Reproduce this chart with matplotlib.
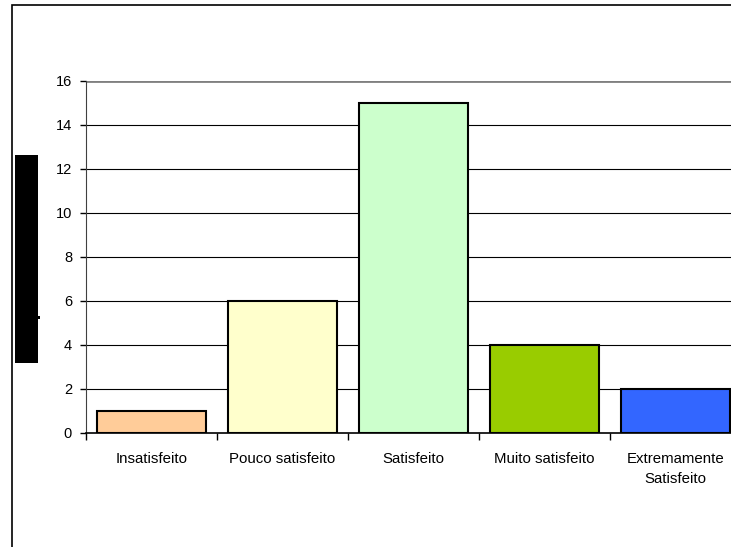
import matplotlib.pyplot as plt
from matplotlib.patches import Rectangle

categorias = ['Insatisfeito', 'Pouco satisfeito', 'Satisfeito', 'Muito satisfeito', 'Extremamente\nSatisfeito']
valores = [1, 6, 15, 4, 2]
cores = ['#FFCC99', '#FFFFCC', '#CCFFCC', '#99CC00', '#3366FF']
yticks = [0, 2, 4, 6, 8, 10, 12, 14, 16]

W, H = 731, 547
plt.rcParams['font.family'] = ['Liberation Sans', 'DejaVu Sans']
fig = plt.figure(figsize=(W / 100, H / 100), dpi=100)

# area do grafico (passa da borda direita, como no original)
x0, x1, y0, y1 = 86, 741, 433, 81
ax = fig.add_axes([x0 / W, 1 - y0 / H, (x1 - x0) / W, (y0 - y1) / H])

pos = list(range(len(categorias)))
ax.bar(pos, valores, width=0.835, color=cores, edgecolor='black', linewidth=1.5, zorder=3)

ax.set_xlim(-0.5, len(categorias) - 0.5)
ax.set_ylim(0, 16)
ax.set_yticks(yticks)
ax.set_yticklabels([str(v) for v in yticks])
for v in yticks[1:-1]:
    ax.axhline(v, color='black', linewidth=0.8, zorder=1)
ax.axhline(16, color='#808080', linewidth=2, zorder=1)

ax.set_xticks([p + 0.5 for p in pos[:-1]] + [-0.5])
ax.set_xticklabels([])
ax.set_xticks(pos, minor=True)
ax.set_xticklabels(categorias, minor=True, fontsize=10.8, linespacing=1.55)
ax.tick_params(axis='x', which='minor', length=0, pad=14)
ax.tick_params(axis='x', which='major', length=5, width=1, direction='out')
ax.tick_params(axis='y', length=4, width=1, labelsize=10.5, pad=6)

for s in ['top', 'right']:
    ax.spines[s].set_visible(False)
ax.spines['left'].set_color('#404040')
ax.spines['bottom'].set_linewidth(1.2)

# borda da figura e bloco preto a esquerda
fig.patches.append(Rectangle((11.5 / W, -0.1), 2, 1 - 4.5 / H + 0.1, transform=fig.transFigure,
                             fill=False, edgecolor='black', linewidth=1.2))
fig.patches.append(Rectangle((15 / W, 1 - 363 / H), 23 / W, 208 / H, transform=fig.transFigure,
                             facecolor='black', edgecolor='none'))
fig.patches.append(Rectangle((38 / W, 1 - 319 / H), 2 / W, 3 / H, transform=fig.transFigure,
                             facecolor='black', edgecolor='none'))

fig.savefig('out.png', dpi=100)
